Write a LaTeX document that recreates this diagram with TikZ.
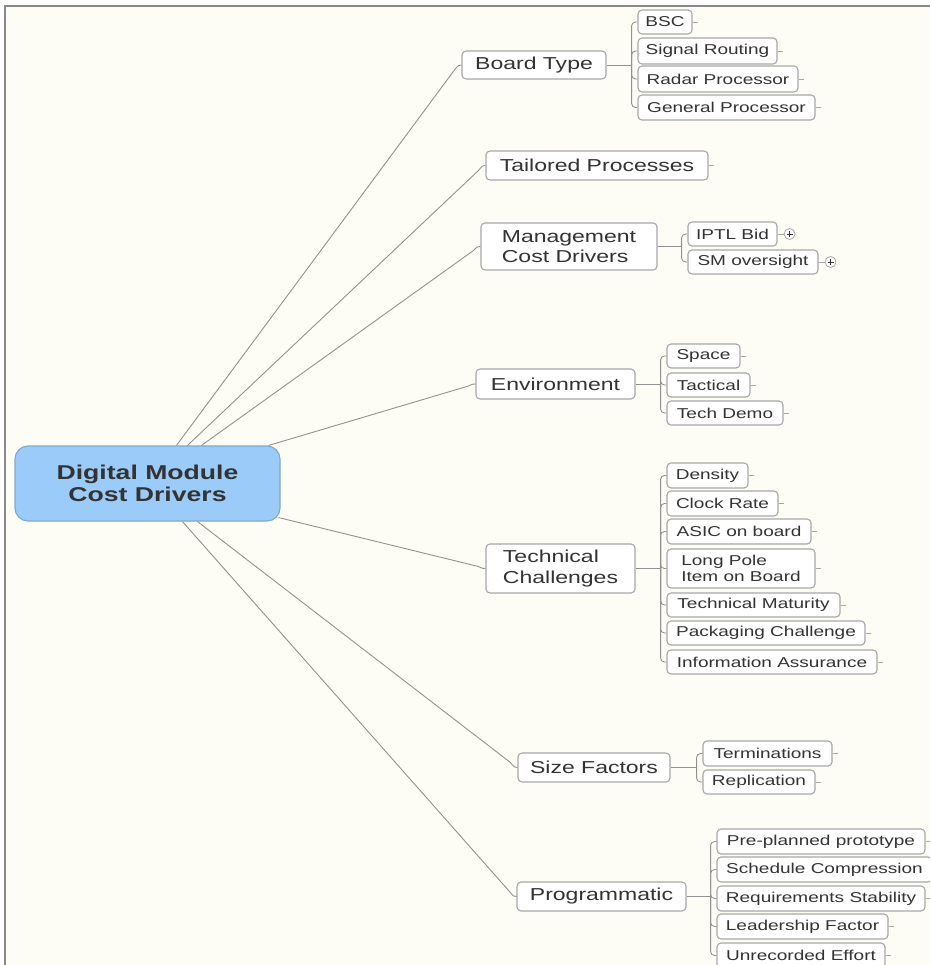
\documentclass[tikz,border=0pt]{standalone}
\usepackage{fontspec}
\setmainfont{Liberation Sans}[FakeStretch=1.33]
\usetikzlibrary{calc}

\definecolor{canvas}{HTML}{FDFDF5}
\definecolor{frame}{HTML}{8A8A8A}
\definecolor{wire}{HTML}{929292}
\definecolor{boxline}{HTML}{A8A8A8}
\definecolor{ink}{HTML}{333333}
\definecolor{rootfill}{HTML}{9BCBF8}
\definecolor{rootline}{HTML}{80A8CC}

\begin{document}
\begin{tikzpicture}[x=1pt,y=-1pt,
  rootbox/.style={draw=rootline, line width=1.1pt, fill=rootfill, rounded corners=13pt,
    inner sep=0pt, text=ink, align=center, font=\bfseries\fontsize{20}{22.5}\selectfont},
  topic/.style={draw=boxline, line width=1.1pt, fill=white, rounded corners=4pt,
    inner sep=0pt, text=ink, align=left, font=\fontsize{17.3}{20.5}\selectfont},
  subtopic/.style={draw=boxline, line width=1.1pt, fill=white, rounded corners=4pt,
    inner sep=0pt, text=ink, align=left, font=\fontsize{14.3}{16.5}\selectfont},
  wire/.style={draw=wire, line width=0.9pt},
  bracket/.style={draw=wire, line width=0.9pt, rounded corners=4pt},
  stub/.style={draw=boxline, line width=0.9pt},
  plusbtn/.style={circle, draw=boxline, line width=0.8pt, fill=white, minimum size=11pt, inner sep=0pt}
]
\useasboundingbox (0,0) rectangle (930,965);
\begin{scope}
\clip (0,0) rectangle (930,965);

% canvas and its frame
\fill[white] (0,0) rectangle (930,965);
\fill[canvas] (5,6) rectangle (930,965);
\draw[frame, line width=1.5pt] (5,965) -- (5,6) -- (930,6);

% central topic
\node[rootbox, minimum width=265, minimum height=75] (root) at (147.5,483.5) {Digital Module\\Cost Drivers};

% main topics
\node[topic, minimum width=144, minimum height=28] (bt)  at (534,65)      {Board Type};
\node[topic, minimum width=222, minimum height=29] (tp)  at (597,165.5)   {Tailored Processes};
\node[topic, minimum width=176, minimum height=47] (mcd) at (569,246.5)   {Management\\Cost Drivers};
\node[topic, minimum width=159, minimum height=30] (env) at (555.5,384)   {Environment};
\node[topic, minimum width=149, minimum height=49] (tc)  at (560.5,568.5) {Technical\\Challenges};
\node[topic, minimum width=152, minimum height=29] (sf)  at (594,767.5)   {Size Factors};
\node[topic, minimum width=169, minimum height=29] (prg) at (601.5,896.5) {Programmatic};

% subtopics: Board Type
\node[subtopic, minimum width=54,  minimum height=24] (bsc) at (665,22)     {BSC};
\node[subtopic, minimum width=139, minimum height=26] (sr)  at (707.5,51)   {Signal Routing};
\node[subtopic, minimum width=160, minimum height=26] (rp)  at (718,79)     {Radar Processor};
\node[subtopic, minimum width=177, minimum height=25] (gp)  at (726.5,107.5){General Processor};
% Management Cost Drivers
\node[subtopic, minimum width=89,  minimum height=24] (iptl) at (732.5,234) {IPTL Bid};
\node[subtopic, minimum width=130, minimum height=24] (smo)  at (753,262)   {SM oversight};
% Environment
\node[subtopic, minimum width=73,  minimum height=24] (space) at (703.5,356) {Space};
\node[subtopic, minimum width=83,  minimum height=24] (tact)  at (708.5,385) {Tactical};
\node[subtopic, minimum width=116, minimum height=24] (td)    at (725,413)   {Tech Demo};
% Technical Challenges
\node[subtopic, minimum width=81,  minimum height=25] (dens) at (707.5,475.5) {Density};
\node[subtopic, minimum width=111, minimum height=25] (clk)  at (722.5,503.5) {Clock Rate};
\node[subtopic, minimum width=144, minimum height=25] (asic) at (739,531.5)   {ASIC on board};
\node[subtopic, minimum width=148, minimum height=39] (lp)   at (741,568.5)   {Long Pole\\Item on Board};
\node[subtopic, minimum width=173, minimum height=24] (tm)   at (753.5,605)   {Technical Maturity};
\node[subtopic, minimum width=198, minimum height=24] (pc)   at (766,633)     {Packaging Challenge};
\node[subtopic, minimum width=210, minimum height=24] (ia)   at (772,662)     {Information Assurance};
% Size Factors
\node[subtopic, minimum width=129, minimum height=25] (term) at (767.5,753.5) {Terminations};
\node[subtopic, minimum width=112, minimum height=24] (repl) at (759,782)     {Replication};
% Programmatic
\node[subtopic, minimum width=208, minimum height=25] (ppp) at (821,841.5)   {Pre-planned prototype};
\node[subtopic, minimum width=215, minimum height=25] (sc)  at (824.5,869.5) {Schedule Compression};
\node[subtopic, minimum width=208, minimum height=25] (rs)  at (821,898.5)   {Requirements Stability};
\node[subtopic, minimum width=171, minimum height=25] (lf)  at (802.5,926.5) {Leadership Factor};
\node[subtopic, minimum width=168, minimum height=25] (ue)  at (801,955.5)   {Unrecorded Effort};

% expand buttons
\node[plusbtn] (iptlx) at ($(iptl.east)+(12,0)$) {};
\node[plusbtn] (smox)  at ($(smo.east)+(12,0)$) {};
\foreach \b in {iptlx,smox}{
  \draw[ink, line width=0.8pt] ($(\b.center)+(-3,0)$) -- ($(\b.center)+(3,0)$);
  \draw[ink, line width=0.8pt] ($(\b.center)+(0,-3)$) -- ($(\b.center)+(0,3)$);
}
\draw[stub] (iptl.east) -- (iptlx.west);
\draw[stub] (smo.east) -- (smox.west);

% central topic to main topics
\draw[wire] ($(root.north west)+(162,0)$) -- ($(bt.west)+(-7,5)$)
  .. controls ($(bt.west)+(-3,0)$) .. (bt.west);
\draw[wire] ($(root.north west)+(173,0)$) -- ($(tp.west)+(-7,5)$)
  .. controls ($(tp.west)+(-3,0)$) .. (tp.west);
\draw[wire] ($(root.north west)+(187,0)$) -- ($(mcd.west)+(-7,4)$)
  .. controls ($(mcd.west)+(-3,0)$) .. (mcd.west);
\draw[wire] ($(root.north east)+(-12,0)$) -- ($(env.west)+(-7,2)$)
  .. controls ($(env.west)+(-3,0)$) .. (env.west);
\draw[wire] ($(root.south east)+(-2,-4)$) -- ($(tc.west)+(-7,-2)$)
  .. controls ($(tc.west)+(-3,0)$) .. (tc.west);
\draw[wire] ($(root.south west)+(183,0)$) -- ($(sf.west)+(-7,-5)$)
  .. controls ($(sf.west)+(-3,0)$) .. (sf.west);
\draw[wire] ($(root.south west)+(168,0)$) -- ($(prg.west)+(-7,-5)$)
  .. controls ($(prg.west)+(-3,0)$) .. (prg.west);

% brackets from main topics to their subtopics
\coordinate (jbt)  at ($(bt.east)+(25,0)$);
\coordinate (jmcd) at ($(mcd.east)+(24,0)$);
\coordinate (jenv) at ($(env.east)+(25,0)$);
\coordinate (jtc)  at ($(tc.east)+(25,0)$);
\coordinate (jsf)  at ($(sf.east)+(26,0)$);
\coordinate (jprg) at ($(prg.east)+(24,0)$);

\draw[wire] (bt.east) -- (jbt);
\foreach \c in {bsc,sr,rp,gp} \draw[bracket] (jbt) |- (\c.west);
\draw[wire] (mcd.east) -- (jmcd);
\foreach \c in {iptl,smo} \draw[bracket] (jmcd) |- (\c.west);
\draw[wire] (env.east) -- (jenv);
\foreach \c in {space,tact,td} \draw[bracket] (jenv) |- (\c.west);
\draw[wire] (tc.east) -- (jtc);
\foreach \c in {dens,clk,asic,lp,tm,pc,ia} \draw[bracket] (jtc) |- (\c.west);
\draw[wire] (sf.east) -- (jsf);
\foreach \c in {term,repl} \draw[bracket] (jsf) |- (\c.west);
\draw[wire] (prg.east) -- (jprg);
\foreach \c in {ppp,sc,rs,lf,ue} \draw[bracket] (jprg) |- (\c.west);

% collapsed-branch stubs on the right of leaf topics
\foreach \n in {tp,bsc,sr,rp,gp,space,tact,td,dens,clk,asic,lp,tm,pc,ia,term,repl,ppp,sc,rs,lf,ue}
  \draw[stub] (\n.east) -- ++(5,0);
\end{scope}
\end{tikzpicture}
\end{document}
